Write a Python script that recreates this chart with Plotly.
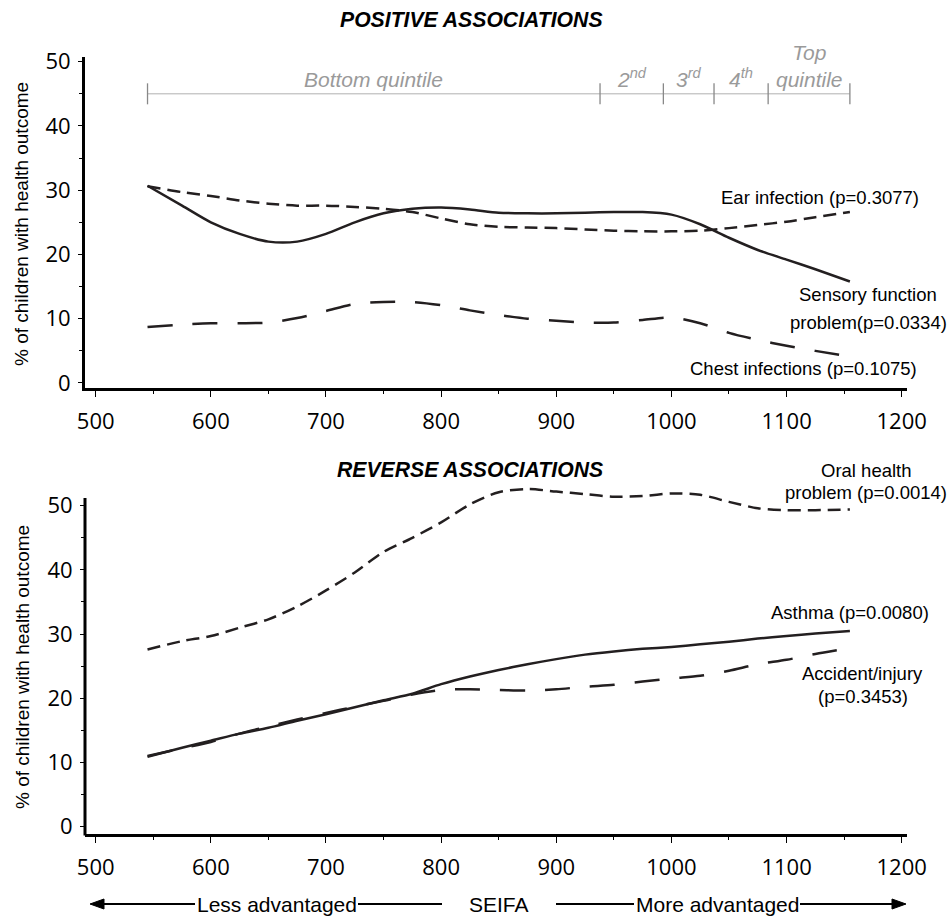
import plotly.graph_objects as go

# ---------------- data ----------------
seifa = [545, 575, 600, 625, 650, 675, 700, 725, 750, 775, 800, 825, 850,
         875, 900, 925, 950, 975, 1000, 1025, 1050, 1075, 1100, 1125, 1155]

ear_infection = [30.6, 29.7, 29.1, 28.4, 27.9, 27.6, 27.6, 27.4, 27.1, 26.6, 25.6, 24.7, 24.3,
                 24.2, 24.1, 23.9, 23.7, 23.6, 23.6, 23.7, 24.1, 24.6, 25.1, 25.8, 26.6]
sensory = [30.7, 27.6, 25.0, 23.2, 22.0, 22.0, 23.2, 25.0, 26.4, 27.1, 27.3, 27.0, 26.5,
           26.4, 26.4, 26.5, 26.6, 26.6, 26.2, 24.7, 22.6, 20.7, 19.2, 17.7, 15.8]
chest = [8.7, 9.1, 9.3, 9.3, 9.4, 10.1, 11.2, 12.3, 12.6, 12.6, 12.1, 11.3, 10.6,
         10.0, 9.7, 9.4, 9.4, 9.8, 10.2, 9.3, 7.8, 6.7, 5.8, 5.0, 4.1]

oral = [27.6, 28.9, 29.7, 31.0, 32.3, 34.3, 36.8, 39.6, 42.8, 45.0, 47.4, 50.2, 52.1,
        52.6, 52.2, 51.8, 51.4, 51.5, 51.9, 51.7, 50.6, 49.6, 49.3, 49.3, 49.4]
asthma = [10.9, 12.3, 13.4, 14.5, 15.4, 16.5, 17.5, 18.6, 19.7, 20.7, 22.2, 23.4, 24.4,
          25.3, 26.1, 26.8, 27.3, 27.7, 28.0, 28.4, 28.8, 29.3, 29.7, 30.1, 30.5]
accident = [11.0, 12.2, 13.2, 14.5, 15.6, 16.7, 17.7, 18.7, 19.6, 20.6, 21.3, 21.4, 21.3,
            21.2, 21.4, 21.8, 22.1, 22.6, 23.1, 23.5, 24.3, 25.3, 26.0, 26.9, 27.8]

quintile_bounds = [545, 938, 993, 1037, 1084, 1155]
quintile_labels = ["Bottom quintile", "2<sup>nd</sup>", "3<sup>rd</sup>", "4<sup>th</sup>", "Top<br>quintile"]
quintile_bar_level = 45

x_ticks = [500, 600, 700, 800, 900, 1000, 1100, 1200]
y_ticks = [0, 10, 20, 30, 40, 50]

# ---------------- layout geometry ----------------
W, H = 948, 916
L, R, T, B = 85, 41, 57, 82
PW, PH = W - L - R, H - T - B


def px(x):
    return (x - L) / PW


def py(y):
    return (H - B - y) / PH


INK = "#231f20"
GRAY = "#9a9a9a"
ARIAL = "Liberation Sans, Arial, sans-serif"
TICKFONT = dict(family="Open Sans, sans-serif", size=22, color="black")

SHORT = "13px,7px"
LONG = "25px,20px"

fig = go.Figure()

def add_line(y, dash, axis):
    fig.add_trace(go.Scatter(
        x=seifa, y=y, mode="lines",
        line=dict(color=INK, width=2.5, dash=dash, shape="spline", smoothing=0.8),
        xaxis="x" if axis == 1 else "x2", yaxis="y" if axis == 1 else "y2",
        showlegend=False, hoverinfo="skip"))

add_line(ear_infection, SHORT, 1)
add_line(sensory, "solid", 1)
add_line(chest, LONG, 1)
add_line(oral, SHORT, 2)
add_line(asthma, "solid", 2)
add_line(accident, LONG, 2)

# quintile bar
fig.add_trace(go.Scatter(
    x=quintile_bounds, y=[quintile_bar_level] * len(quintile_bounds),
    mode="lines+markers", line=dict(color="#b0b0b0", width=1),
    marker=dict(symbol="line-ns", size=15, line=dict(color="#888888", width=1.3)),
    xaxis="x", yaxis="y", showlegend=False, hoverinfo="skip", cliponaxis=False))

annotations = []
for i, lab in enumerate(quintile_labels):
    mid = (quintile_bounds[i] + quintile_bounds[i + 1]) / 2
    annotations.append(dict(
        x=mid, y=quintile_bar_level, xref="x", yref="y", text="<i>" + lab + "</i>",
        showarrow=False, xanchor="center", yanchor="bottom", yshift=1,
        font=dict(family=ARIAL, size=21, color=GRAY)))

def label(text, x, y, xanchor="center", size=18.5, **kw):
    annotations.append(dict(
        x=px(x), y=py(y), xref="paper", yref="paper", text=text, showarrow=False,
        xanchor=xanchor, yanchor="middle", font=dict(family=ARIAL, size=size, color="black"), **kw))

label("<b><i>POSITIVE ASSOCIATIONS</i></b>", 471, 19, size=21.2)
label("<b><i>REVERSE ASSOCIATIONS</i></b>", 470, 469, size=21.2)

label("Ear infection (p=0.3077)", 921, 198, xanchor="right")
label("Sensory function", 868, 294)
label("problem(p=0.0334)", 868, 322)
label("Chest infections (p=0.1075)", 919, 368, xanchor="right")

label("Oral health", 866, 470)
label("problem (p=0.0014)", 866, 492)
label("Asthma (p=0.0080)", 931, 612, xanchor="right")
label("Accident/injury", 862, 673)
label("(p=0.3453)", 863, 696)

label("% of children with health outcome", 22, 224, size=19, textangle=-90)
label("% of children with health outcome", 22, 667, size=19, textangle=-90)

label("Less advantaged", 276.5, 904, size=21)
label("SEIFA", 499, 904, size=21)
label("More advantaged", 717, 904, size=21)

shapes = []
# left axis line of the lower panel (its range is extended upward so the curve is not cut)
shapes.append(dict(type="line", xref="paper", yref="paper", x0=0, x1=0,
                   y0=py(835.5), y1=py(498), line=dict(color="black", width=3)))

AY = 904
for x0, x1 in [(100, 195), (358, 442), (556, 634), (800, 896)]:
    shapes.append(dict(type="line", xref="paper", yref="paper",
                       x0=px(x0), x1=px(x1), y0=py(AY), y1=py(AY),
                       line=dict(color="black", width=2)))

def tri(tip, base):
    return (f"M {px(tip)},{py(AY)} L {px(base)},{py(AY - 5)} "
            f"L {px(base)},{py(AY + 5)} Z")

for tip, base in [(90, 104), (906, 892)]:
    shapes.append(dict(type="path", xref="paper", yref="paper", path=tri(tip, base),
                       fillcolor="black", line=dict(color="black", width=1)))

xaxis_common = dict(
    range=[490.7, 1204.6], tickmode="array", tickvals=x_ticks, ticks="outside",
    ticklen=6, tickwidth=1, tickcolor="black", showline=True, linewidth=3,
    linecolor="black", showgrid=False, zeroline=False, tickfont=TICKFONT,
    ticklabelstandoff=6,
    minor=dict(ticks="outside", ticklen=3, tickcolor="black", dtick=50, tick0=500, showgrid=False))

yaxis_common = dict(
    tickmode="array", tickvals=y_ticks, ticks="outside", ticklen=4, tickwidth=1,
    tickcolor="black", linecolor="black",
    showgrid=False, zeroline=False, tickfont=TICKFONT, ticklabelstandoff=3,
    minor=dict(ticks="outside", ticklen=3, tickcolor="black", dtick=5, tick0=0, showgrid=False))

# lower panel: 50 at pixel 505.7, 6.42 px per unit; extend the top to 54
y2_top_val = 54.0
y2_top_px = 505.7 - (y2_top_val - 50) * 6.42

fig.update_layout(
    width=W, height=H, margin=dict(l=L, r=R, t=T, b=B),
    paper_bgcolor="white", plot_bgcolor="white",
    xaxis=dict(domain=[0, 1], anchor="y", **xaxis_common),
    yaxis=dict(domain=[py(388), 1], anchor="x", range=[-0.78, 50.73],
               showline=True, linewidth=3, **yaxis_common),
    xaxis2=dict(domain=[0, 1], anchor="y2", **xaxis_common),
    yaxis2=dict(domain=[0, py(y2_top_px)], anchor="x2", range=[-1.14, y2_top_val],
                showline=False, **yaxis_common),
    annotations=annotations, shapes=shapes, showlegend=False)

fig.write_html("out.html")
